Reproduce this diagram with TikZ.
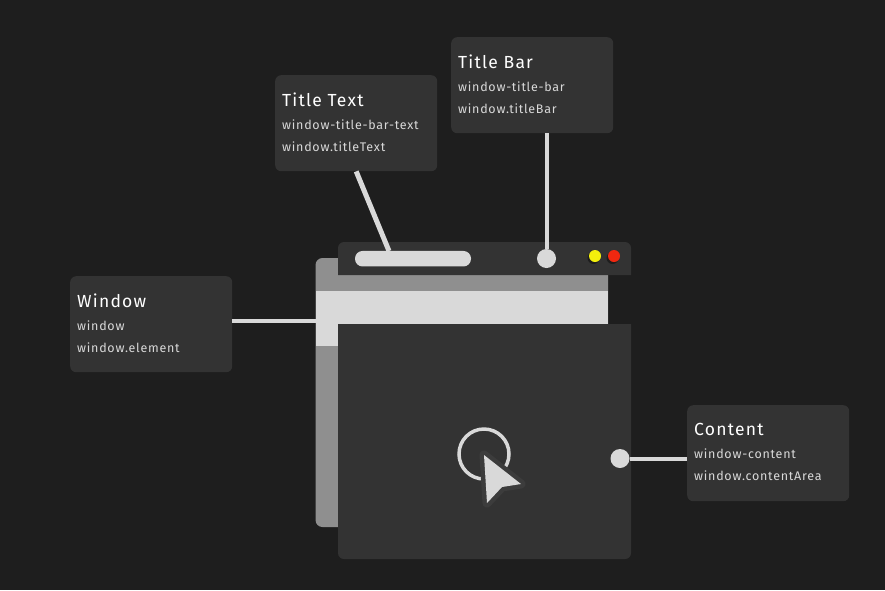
\documentclass[tikz,border=0pt]{standalone}
\usepackage{fontspec}
\setmainfont{Fira Sans}[LetterSpace=6]
\newfontfamily\headfont{Fira Sans}[LetterSpace=7]
\usepackage{xcolor}
\usetikzlibrary{positioning,calc}
\definecolor{bgdark}{RGB}{30,30,30}
\definecolor{cardgray}{RGB}{51,51,51}
\definecolor{halogray}{RGB}{60,60,60}
\definecolor{wingray}{RGB}{143,143,143}
\definecolor{winlight}{RGB}{217,217,217}
\definecolor{dotyellow}{RGB}{243,239,12}
\definecolor{dotred}{RGB}{240,40,16}
\newcommand{\cardhead}[1]{{\headfont\fontsize{17.5}{17.5}\selectfont\color{white}#1}}
\newcommand{\cardline}[1]{{\fontsize{12.5}{12.5}\selectfont\color{winlight}#1}}
\newcommand{\cardpad}{\par\vspace{2pt}}

\begin{document}
\begin{tikzpicture}[
    x=1pt, y=-1pt,
    card/.style={rectangle, rounded corners=6pt, fill=cardgray, anchor=north west, align=left,
        minimum width=162pt, minimum height=96pt, text width=148pt, inner sep=7pt,
        execute at end node=\cardpad},
    wire/.style={draw=winlight, line width=4pt},
    handle/.style={circle, fill=winlight, minimum size=19pt, inner sep=0pt},
    light/.style={circle, minimum size=12pt, inner sep=0pt}
]
    \fill[bgdark] (0,0) rectangle (885,590);
    \useasboundingbox (0,0) rectangle (885,590);

    % window at the back
    \fill[wingray] (608,258) [rounded corners=7pt] -- (315.5,258) -- (315.5,527) [sharp corners] -- (338,527) -- (608,527) -- cycle;
    \fill[winlight] (315.5,291) rectangle (608,323.5);
    \fill[winlight] (315.5,323) rectangle (338,346);

    % title bar and content
    \fill[cardgray] (338,275) [rounded corners=6pt] -- (338,242) -- (631,242) [sharp corners] -- (631,275) -- cycle;
    \fill[cardgray] (338,324) [rounded corners=6pt] -- (338,559) -- (631,559) [sharp corners] -- (631,324) -- cycle;

    % cards
    \node[card] (windowcard) at (70,276) {\cardhead{Window}\\[11pt]\cardline{window}\\[10pt]\cardline{window.element}};
    \node[card] (textcard) at (275,75) {\cardhead{Title\hspace{2.5pt} Text}\\[11pt]\cardline{window-title-bar-text}\\[10pt]\cardline{window.titleText}};
    \node[card] (barcard) at (451,37) {\cardhead{Title\hspace{2.5pt} Bar}\\[11pt]\cardline{window-title-bar}\\[10pt]\cardline{window.titleBar}};
    \node[card] (contentcard) at (687,405) {\cardhead{Content}\\[11pt]\cardline{window-content}\\[10pt]\cardline{window.contentArea}};

    % targets
    \node[rectangle, rounded corners=7.5pt, fill=winlight, minimum width=116pt, minimum height=15.5pt, inner sep=0pt] (pill) at (413,258.7) {};
    \node[handle] (barhandle) at (546.5,258.5) {};
    \node[handle] (contenthandle) at (620,458.5) {};
    \coordinate (texttip) at (389,251);
    \coordinate (windowtip) at (316,321);

    \draw[wire] (barcard.south -| barhandle) -- (barhandle);
    \draw[wire, line width=5pt] (textcard.south) -- (texttip);
    \draw[wire] (windowcard.east |- windowtip) -- (windowtip);
    \draw[wire] (contenthandle) -- (contenthandle -| contentcard.west);

    % window buttons
    \fill[bgdark] (593.5,258) circle (6pt);
    \fill[bgdark] (612.5,258) circle (6pt);
    \node[light, fill=dotyellow] (yellowdot) at (595,256) {};
    \node[light, fill=dotred] (reddot) at (614,256) {};

    % pointer
    \draw[winlight, line width=3.5pt] (484,454) circle (25pt);
    \draw[draw=halogray, line width=9pt, line join=round] (484,455) -- (521,484) -- (502,487) -- (487,503) -- cycle;
    \fill[winlight] (484,455) -- (521,484) -- (502,487) -- (487,503) -- cycle;
\end{tikzpicture}
\end{document}
